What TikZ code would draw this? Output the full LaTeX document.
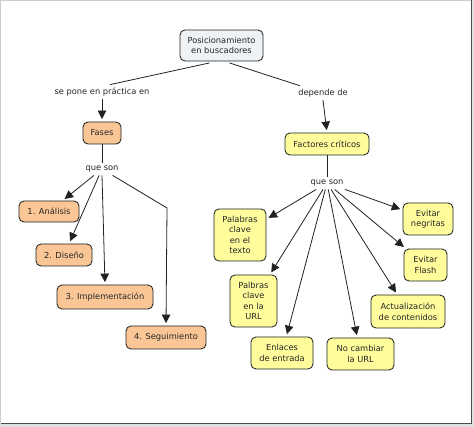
\documentclass[tikz,border=0pt]{standalone}
\usepackage{fontspec}
\setmainfont{DejaVu Sans}
\usetikzlibrary{arrows.meta}
\definecolor{posfill}{HTML}{EEF2F5}
\definecolor{orfill}{HTML}{FAC696}
\definecolor{yefill}{HTML}{FFFC9C}
\definecolor{txt}{HTML}{262626}
\definecolor{edge}{HTML}{222222}
\tikzset{
  box/.style={draw=edge, line width=0.85pt, rounded corners=5pt, inner sep=0pt, align=center,
    text=txt, font=\fontsize{8.3}{10.5}\selectfont},
  orbox/.style={box, fill=orfill},
  yebox/.style={box, fill=yefill},
  lbl/.style={inner sep=3pt, text=txt, font=\fontsize{8.3}{10.5}\selectfont},
  conn/.style={draw=edge, line width=0.8pt},
  arr/.style={conn, -{Triangle[length=8.5pt,width=8.5pt]}, shorten >=2.5pt}
}
\begin{document}
\begin{tikzpicture}[x=1pt,y=-1pt]
\useasboundingbox (0,0) rectangle (474,427);
\fill[black!12] (0,0) rectangle (474,427);
\fill[white] (0,0) rectangle (471.5,423.5);
\draw[black!20, line width=0.6pt] (0.5,423.5) -- (0.5,0.5) -- (471.5,0.5);
\draw[black!70, line width=1pt] (471.5,0.5) -- (471.5,423.5) -- (0.5,423.5);

% concepts
\node[box, fill=posfill, minimum width=83pt, minimum height=31pt] (pos) at (221.5,45.5) {Posicionamiento\\en buscadores};
\node[orbox, minimum width=38pt, minimum height=22pt] (fases) at (102,133) {Fases};
\node[orbox, minimum width=60pt, minimum height=21pt] (a1) at (49,211.5) {1. Análisis};
\node[orbox, minimum width=56pt, minimum height=22pt] (a2) at (64,255) {2. Diseño};
\node[orbox, minimum width=96pt, minimum height=24pt] (a3) at (105,297) {3. Implementación};
\node[orbox, minimum width=80pt, minimum height=23pt] (a4) at (166,337.5) {4. Seguimiento};

\node[yebox, minimum width=84pt, minimum height=22pt] (fc) at (327,144) {Factores críticos};
\node[yebox, minimum width=52pt, minimum height=52pt] (pt) at (240,235) {Palabras\\clave\\en el\\texto};
\node[yebox, minimum width=50pt, minimum height=32pt] (en) at (428,219) {Evitar\\negritas};
\node[yebox, minimum width=43pt, minimum height=32pt] (ef) at (425.5,265) {Evitar\\Flash};
\node[yebox, minimum width=47pt, minimum height=52pt] (pu) at (253.5,301) {Palbras\\clave\\en la\\URL};
\node[yebox, minimum width=74pt, minimum height=33pt] (ac) at (408,311.5) {Actualización\\de contenidos};
\node[yebox, minimum width=62pt, minimum height=32pt] (ee) at (282,353) {Enlaces\\de entrada};
\node[yebox, minimum width=67pt, minimum height=32pt] (nc) at (360.5,354) {No cambiar\\la URL};

% linking phrases
\node[lbl] (spl) at (102,92) {se pone en práctica en};
\node[lbl] (dep) at (323,93) {depende de};
\node[lbl] (qsL) at (102,169) {que son};
\node[lbl] (qsR) at (327,183) {que son};
\coordinate (bend) at (167,208);

% connectors
\draw[conn] ([xshift=-12pt,yshift=-1.5pt]pos.south) -- ([xshift=8pt]spl.north);
\draw[conn] ([xshift=8pt,yshift=-1.5pt]pos.south) -- ([xshift=-23pt]dep.north);
\draw[arr] (spl.south) -- (fases.north);
\draw[arr] (dep.south) -- (fc.north);

\draw[conn] (fases.south) -- (qsL.north);
\draw[arr] (qsL) -- (a1);
\draw[arr] (qsL) -- (a2);
\draw[arr] (qsL.south) -- (a3.north);
\draw[arr] (qsL) -- (bend) -- (a4.north);

\draw[conn] (fc.south) -- (qsR.north);
\draw[arr] (qsR) -- (pt);
\draw[arr] (qsR) -- (en);
\draw[arr] (qsR) -- (ef);
\draw[arr] (qsR) -- (pu);
\draw[arr] (qsR) -- (ac);
\draw[arr] (qsR) -- (ee);
\draw[arr] (qsR) -- (nc);
\end{tikzpicture}
\end{document}
